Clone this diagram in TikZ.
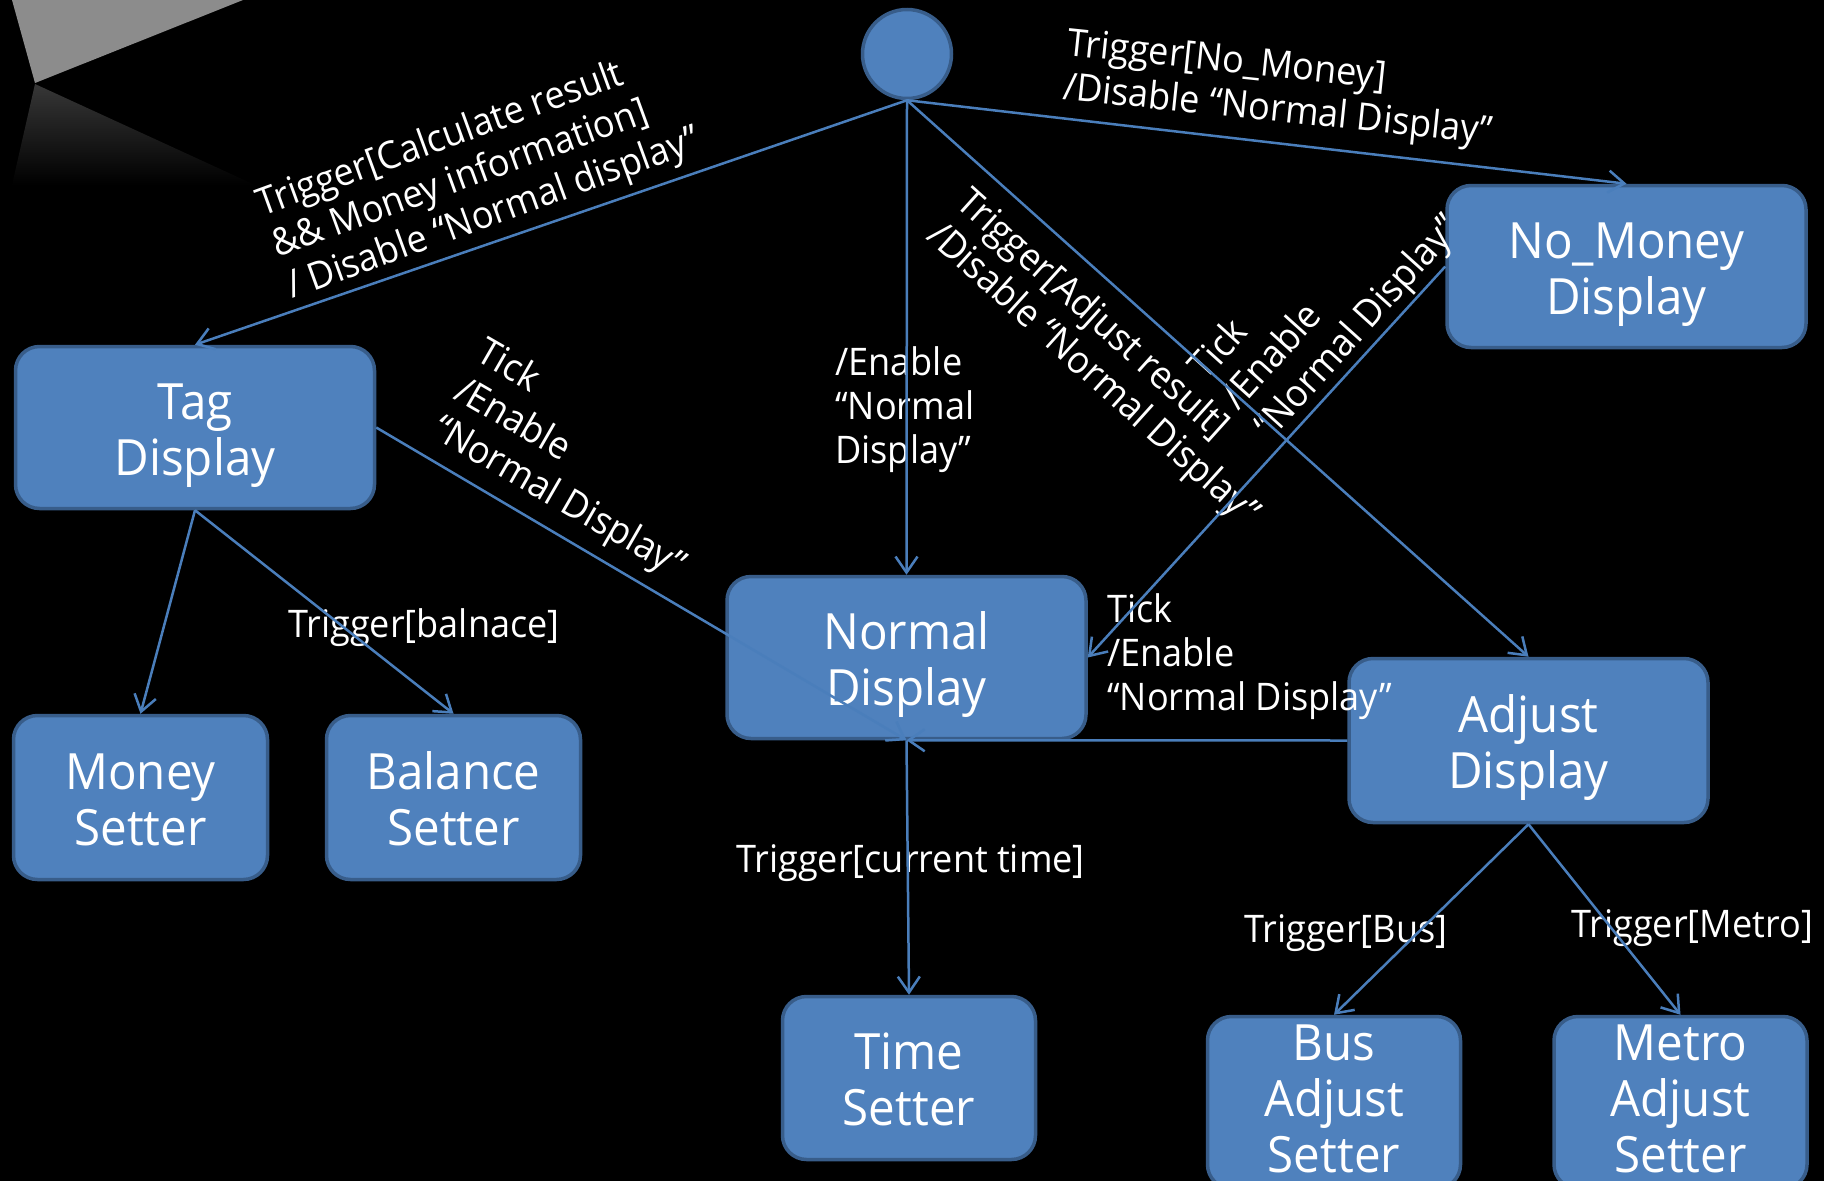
\documentclass[tikz,border=0pt]{standalone}
\usepackage{fontspec}
\setmainfont{Open Sans}[FakeStretch=0.95]
\usetikzlibrary{arrows.meta}
\definecolor{boxfill}{RGB}{79,129,189}
\definecolor{boxline}{RGB}{56,93,138}
\definecolor{connc}{RGB}{74,126,187}
\definecolor{glare}{RGB}{140,140,140}
\begin{document}
\begin{tikzpicture}[x=1pt,y=-1pt,
  state/.style={draw=boxline, fill=boxfill, line width=3.5pt, rounded corners=24pt,
    text=white, font=\fontsize{50}{56}\selectfont, align=center, inner sep=0pt,
    text height=109pt, text depth=14pt},
  state3/.style={state, text height=153pt, text depth=14pt},
  lbl/.style={text=white, font=\fontsize{38}{44}\selectfont, align=left, inner sep=0pt, anchor=base west},
  conn/.style={draw=connc, line width=2.5pt, -{Straight Barb[length=16pt,width=22pt,line width=2.5pt]}}
]
\fill[black] (0,0) rectangle (1824,1181);
\useasboundingbox (0,0) rectangle (1824,1181);
\clip (0,0) rectangle (1824,1181);
% top-left glare
\fill[glare] (12,0) -- (243,0) -- (35,83) -- cycle;
\shade[top color={rgb,255:red,55;green,55;blue,55}, bottom color=black] (35,84) -- (12,185) -- (255,185) -- cycle;

% states
\node[draw=boxline, fill=boxfill, line width=3.5pt, circle, minimum size=89pt, inner sep=0pt] (init) at (907,54) {};
\node[state, minimum width=359pt, minimum height=162pt] (tag) at (195,427.5) {Tag\\Display};
\node[state, minimum width=359pt, minimum height=162pt] (nomoney) at (1626.5,266.5) {No\_Money\\Display};
\node[state, minimum width=359pt, minimum height=162pt] (normal) at (906.5,657.5) {Normal\\Display};
\node[state, minimum width=359pt, minimum height=164pt] (adjust) at (1528.5,740.5) {Adjust\\Display};
\node[state, minimum width=254pt, minimum height=164pt] (money) at (140.5,797.5) {Money\\Setter};
\node[state, minimum width=254pt, minimum height=164pt] (balance) at (453.5,797.5) {Balance\\Setter};
\node[state, minimum width=253pt, minimum height=163pt] (time) at (909,1078) {Time\\Setter};
\node[state3, minimum width=253pt, minimum height=172pt] (bus) at (1334,1102.5) {Bus\\Adjust\\Setter};
\node[state3, minimum width=253pt, minimum height=172pt] (metro) at (1680.5,1102.5) {Metro\\Adjust\\Setter};

% labels (anchor = baseline start of the last line)
\node[lbl, rotate=20] (la) at (292,299) {Trigger[Calculate result\\\&\& Money information]\\/ Disable “Normal display”};
\node[lbl, rotate=-6] (lb) at (1062,99) {Trigger[No\_Money]\\/Disable “Normal Display”};
\node[lbl] (lc) at (835,463) {/Enable\\“Normal\\Display”};
\node[lbl, rotate=-42] (ld) at (925,238) {Trigger[Adjust result]\\/Disable “Normal Display”};
\node[lbl, rotate=48] (le) at (1271,441) {Tick\\/Enable\\“Normal Display”};
\node[lbl, rotate=-30] (lf) at (430,436) {Tick\\/Enable\\“Normal Display”};
\node[lbl] (lg) at (1107,710) {Tick\\/Enable\\“Normal Display”};
\node[lbl] (lh) at (288,637) {Trigger[balnace]};
\node[lbl] (li) at (736,872) {Trigger[current time]};
\node[lbl] (lj) at (1244,942) {Trigger[Bus]};
\node[lbl] (lk) at (1571,937) {Trigger[Metro]};

% connectors
\draw[conn] (init.south) -- (tag.north);
\draw[conn] (init.south) -- (nomoney.north);
\draw[conn] (init.south) -- (normal.north);
\draw[conn] (init.south) -- (adjust.north);
\draw[conn] (tag.east) -- (normal.south);
\draw[conn] (nomoney.west) -- (normal.east);
\draw[conn] (adjust.west) -- (normal.south);
\draw[conn] (tag.south) -- (money.north);
\draw[conn] (tag.south) -- (balance.north);
\draw[conn] (normal.south) -- (time.north);
\draw[conn] (adjust.south) -- (bus.north);
\draw[conn] (adjust.south) -- (metro.north);
\end{tikzpicture}
\end{document}
